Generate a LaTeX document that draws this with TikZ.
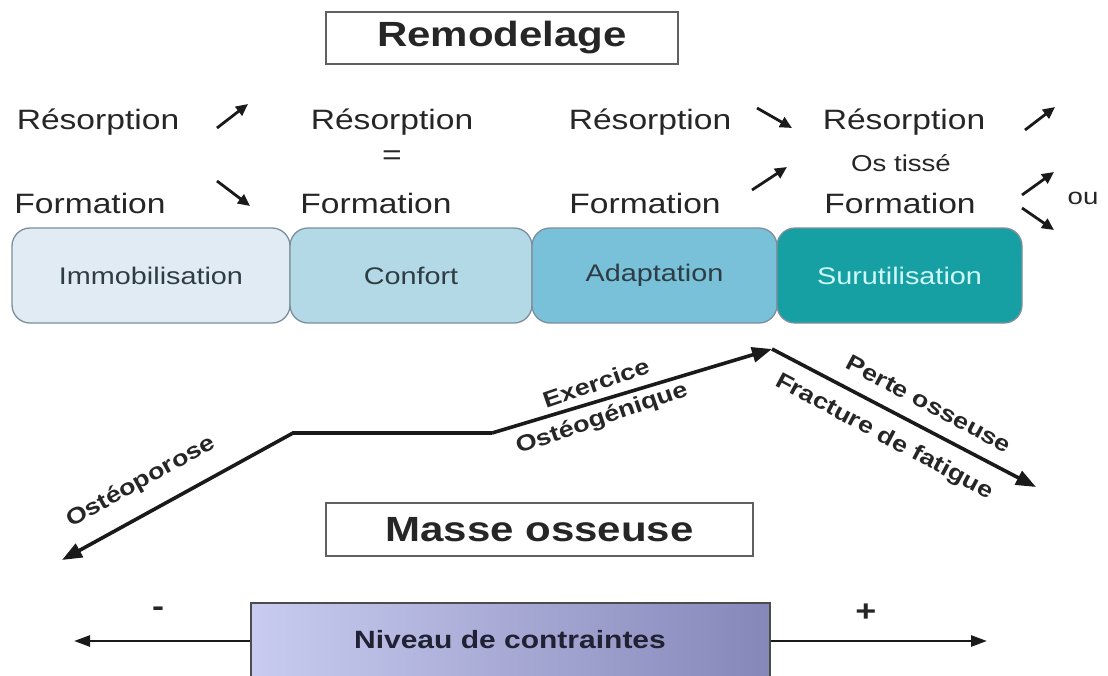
\documentclass[tikz,border=0pt]{standalone}
\usepackage{fontspec}
\setmainfont[FakeStretch=1.2]{Liberation Sans}
\usetikzlibrary{arrows.meta}
\definecolor{txt}{HTML}{262626}
\definecolor{immo}{HTML}{E1EBF3}
\definecolor{conf}{HTML}{B2D9E5}
\definecolor{adap}{HTML}{79C0D9}
\definecolor{suru}{HTML}{16A0A3}
\definecolor{surutxt}{HTML}{CFF7F7}
\definecolor{boxtxt}{HTML}{2E3D44}
\definecolor{boxline}{HTML}{7D8F9C}
\definecolor{nivL}{HTML}{C9CCF0}
\definecolor{nivR}{HTML}{8587B9}
\definecolor{nivtxt}{HTML}{1F2233}
\definecolor{ln}{HTML}{1A1A1A}
\begin{document}
\begin{tikzpicture}[x=1pt,y=-1pt,
  lbl/.style={font=\fontsize{28}{32}\selectfont, text=txt, inner sep=0pt},
  small/.style={font=\fontsize{23}{28}\selectfont, text=txt, inner sep=0pt},
  titlebox/.style={draw=gray!75!black, line width=1.3pt, fill=white, font=\bfseries\fontsize{35}{40}\selectfont, text=txt, inner sep=0pt},
  stage/.style={draw=boxline, line width=1.3pt, rounded corners=18pt, minimum height=95pt, inner sep=0pt, font=\fontsize{24}{28}\selectfont, text=boxtxt},
  rot/.style={font=\bfseries\fontsize{22.5}{26}\selectfont, text=txt, inner sep=0pt},
  tiny/.style={line width=2.8pt, draw=ln, -{Triangle[length=12pt,width=11pt]}},
  graph/.style={line width=3.6pt, draw=ln, line join=miter},
  ghead/.style={-{Triangle[length=20pt,width=15pt]}},
  axis/.style={line width=2.6pt, draw=ln, -{Triangle[length=16pt,width=11pt]}}
]
\useasboundingbox (0,0) rectangle (1108,675);
\clip (0,0) rectangle (1108,675);
\fill[white] (0,0) rectangle (1108,675);

% title
\node[titlebox, minimum width=352pt, minimum height=52pt] (remo) at (502,38) {Remodelage};

% column 1
\node[lbl] (r1) at (98,122) {Résorption};
\node[lbl] (f1) at (90,203) {Formation};
\coordinate (a1s) at (217,128); \coordinate (a1e) at (248,104);
\coordinate (a2s) at (217,181); \coordinate (a2e) at (250,206);
\draw[tiny] (a1s) -- (a1e);
\draw[tiny] (a2s) -- (a2e);

% column 2
\node[lbl] (r2) at (392,122) {Résorption};
\node[lbl] (eq) at (392,158) {=};
\node[lbl] (f2) at (376,203) {Formation};

% column 3
\node[lbl] (r3) at (650,122) {Résorption};
\node[lbl] (f3) at (645,203) {Formation};
\coordinate (a3s) at (757,108); \coordinate (a3e) at (792,128);
\coordinate (a4s) at (752,190); \coordinate (a4e) at (787,167);
\draw[tiny] (a3s) -- (a3e);
\draw[tiny] (a4s) -- (a4e);

% column 4
\node[lbl] (r4) at (904,122) {Résorption};
\node[small] (os) at (901,163) {Os tissé};
\node[lbl] (f4) at (900,203) {Formation};
\coordinate (a5s) at (1025,130); \coordinate (a5e) at (1055,107);
\coordinate (a6s) at (1022,195); \coordinate (a6e) at (1054,172);
\coordinate (a7s) at (1022,208); \coordinate (a7e) at (1054,230);
\draw[tiny] (a5s) -- (a5e);
\draw[tiny] (a6s) -- (a6e);
\draw[tiny] (a7s) -- (a7e);
\node[small] (ou) at (1083,198) {ou};

% stage boxes
\node[stage, fill=immo, minimum width=278pt] (immo) at (151,275.5) {Immobilisation};
\node[stage, fill=conf, minimum width=242pt] (conf) at (411,275.5) {Confort};
\node[stage, fill=adap, minimum width=245pt] (adap) at (654.5,275.5) {Adaptation};
\node[stage, fill=suru, minimum width=245pt, text=surutxt] (suru) at (899.5,275.5) {Surutilisation};

% graph
\coordinate (A) at (62,560);
\coordinate (B) at (293,433);
\coordinate (C) at (492,433);
\coordinate (D) at (772,349);
\coordinate (E) at (1036,487);
\draw[graph, ghead] (C) -- (B) -- (A);
\draw[graph, ghead] (C) -- (D);
\draw[graph, ghead] (D) -- (E);

\node[rot, rotate=29] (ostp) at (141,482) {Ostéoporose};
\node[rot, rotate=19] (exer) at (596,383) {Exercice};
\node[rot, rotate=19] (osteo) at (602,419) {Ostéogénique};
\node[rot, rotate=-28] (perte) at (929,404) {Perte osseuse};
\node[rot, rotate=-28] (fract) at (884,437) {Fracture de fatigue};

% masse osseuse
\node[titlebox, minimum width=427pt, minimum height=53pt] (masse) at (539.5,529.5) {Masse osseuse};

% niveau de contraintes
\node[draw=gray!60!black, line width=1.3pt, left color=nivL, right color=nivR, minimum width=519pt, minimum height=76pt, inner sep=0pt] (niv) at (510.5,641) {};
\node[font=\bfseries\fontsize{25}{30}\selectfont, text=nivtxt, inner sep=0pt] (nivt) at (510,640) {Niveau de contraintes};
\coordinate (Lend) at (74,641);
\coordinate (Rend) at (987,641);
\draw[axis] (niv.west) -- (Lend);
\draw[axis] (niv.east) -- (Rend);
\node[font=\bfseries\fontsize{30}{34}\selectfont, text=txt, inner sep=0pt] (minus) at (158,612) {-};
\node[font=\bfseries\fontsize{30}{34}\selectfont, text=txt, inner sep=0pt] (plus) at (866,613) {+};
\end{tikzpicture}
\end{document}
